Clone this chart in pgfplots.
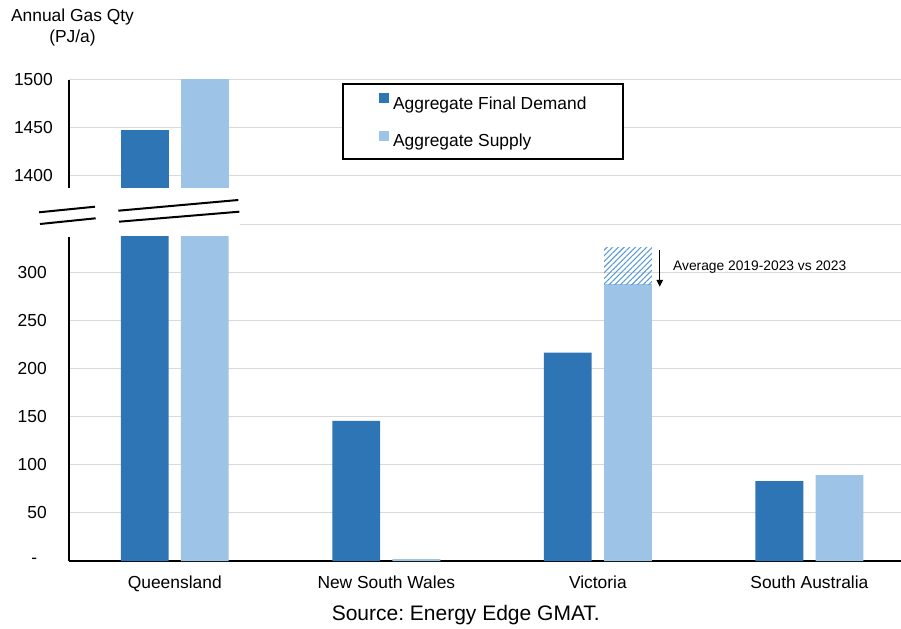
\documentclass[border=0pt]{standalone}
\usepackage{fontspec}
\setmainfont{Liberation Sans}
\usepackage{pgfplots}
\pgfplotsset{compat=1.18}
\usepackage{pgfplotstable}
\usetikzlibrary{patterns.meta,arrows.meta}
\frenchspacing

\definecolor{demand}{HTML}{2E75B6}
\definecolor{supply}{HTML}{9DC3E6}
\definecolor{hatch}{HTML}{5B9BD5}
\definecolor{gridgray}{HTML}{D9D9D9}

% annual gas quantity, PJ/a
\pgfplotstableread{
x demand supply
0 1447.5 1510
1 145.7  2
2 216.8  288.2
3 83.2   89.5
}\gasdata

% Victoria supply, average 2019-2023
\pgfplotstableread{
x avg
2 326.4
}\avgdata

\pgfplotsset{
  gasbase/.style={
    scale only axis, width=423.1pt,
    anchor=south west,
    xmin=-0.5, xmax=3.5,
    ybar, bar width=0.226,
    ymajorgrids, grid style={gridgray, line width=0.5pt},
    major tick length=0pt, tick style={draw=none},
    tick label style={font=\fontsize{8.7}{10}\selectfont},
    /pgf/number format/assume math mode=true,
    y axis line style={line width=1pt},
  }
}

\begin{document}
\begin{tikzpicture}
\useasboundingbox (0,0) rectangle (450.5pt,314pt);
\clip (0,0) rectangle (450.5pt,314pt);

% lower part of the broken axis (0.48044pt per PJ/a)
\begin{axis}[gasbase, at={(34.5pt,33.5pt)}, height=162.15pt,
  ymin=0, ymax=337.5,
  axis x line*=bottom, axis y line*=left,
  x axis line style={line width=1.25pt},
  xtick={0,1,2,3},
  xticklabels={Queensland, New South Wales, Victoria, South Australia},
  xticklabel style={anchor=base, yshift=-13.65pt},
  ytick={0,50,...,300},
  yticklabels={-\hphantom{0},50,100,150,200,250,300},
  yticklabel style={xshift=-7.6pt},
]
\addplot[fill=demand, draw=none, bar shift=-0.142] table[x=x,y=demand] {\gasdata};
\addplot[fill=supply, draw=none, bar shift=0.142] table[x=x,y=supply] {\gasdata};
\draw[line width=0.5pt, -{Triangle[length=3.5pt,width=3.3pt]}]
  (axis cs:2.2925,323.6) -- (axis cs:2.2925,285.4);
\node[anchor=west, inner sep=0pt, font=\fontsize{6.9}{8}\selectfont]
  at (axis cs:2.354,305.9) {Average 2019-2023 vs 2023};
\end{axis}

% hatched part above the Victoria supply bar: same scale, bottom at 288.2
\begin{axis}[gasbase, at={(34.5pt,171.96pt)}, height=23.686pt,
  ymin=288.2, ymax=337.5,
  axis lines=none, ymajorgrids=false, xtick=\empty, ytick=\empty,
]
\addplot[draw=none, bar shift=0.142,
  pattern={Lines[angle=45,distance=2pt,line width=0.55pt]}, pattern color=hatch]
  table[x=x,y=avg] {\avgdata};
\end{axis}

% upper part of the broken axis
\begin{axis}[gasbase, at={(34.5pt,220.15pt)}, height=53.85pt,
  ymin=1387.8, ymax=1500,
  restrict y to domain=1387.8:3000,
  axis x line=none, axis y line*=left,
  xtick=\empty,
  ytick={1400,1450,1500}, yticklabels={1400,1450,1500},
  yticklabel style={xshift=-4.6pt},
  legend cell align=left,
  legend style={at={(0.3227,0.9694)}, anchor=north west,
    draw=black, line width=1pt,
    inner xsep=18pt, inner ysep=0pt, row sep=0.2pt,
    font=\fontsize{8.7}{10}\selectfont,
    nodes={inner sep=0pt, text height=12.5pt, text depth=6.15pt},
    /tikz/every odd column/.append style={column sep=2.2pt}},
  legend image code/.code={\fill[#1,/tikz/.cd] (0pt,0pt) rectangle (4.8pt,4.8pt);},
]
\addplot[fill=demand, draw=none, bar shift=-0.142] table[x=x,y=demand] {\gasdata};
\addplot[fill=supply, draw=none, bar shift=0.142] table[x=x,y=supply] {\gasdata};
\legend{Aggregate Final Demand, Aggregate Supply}
\end{axis}

% axis title and source
\node[anchor=base, font=\fontsize{8.7}{10}\selectfont] at (36.25pt,303.15pt) {Annual Gas Qty};
\node[anchor=base, font=\fontsize{8.7}{10}\selectfont] at (36.25pt,292.85pt) {(PJ/a)};
\node[anchor=base, font=\fontsize{10.5}{12}\selectfont] at (232.9pt,3.65pt) {Source: Energy Edge GMAT.};

% break marks and the gridline at 350 in the gap
\draw[gridgray, line width=0.5pt] (120pt,201.85pt) -- (450.5pt,201.85pt);
\draw[line width=1pt] (19.5pt,207.85pt) -- (47.5pt,210.65pt);
\draw[line width=1pt] (20pt,202pt) -- (47.85pt,204.85pt);
\draw[line width=1pt] (59.15pt,208.65pt) -- (119.15pt,214pt);
\draw[line width=1pt] (59.5pt,203.15pt) -- (119.65pt,208.15pt);
\end{tikzpicture}
\end{document}
